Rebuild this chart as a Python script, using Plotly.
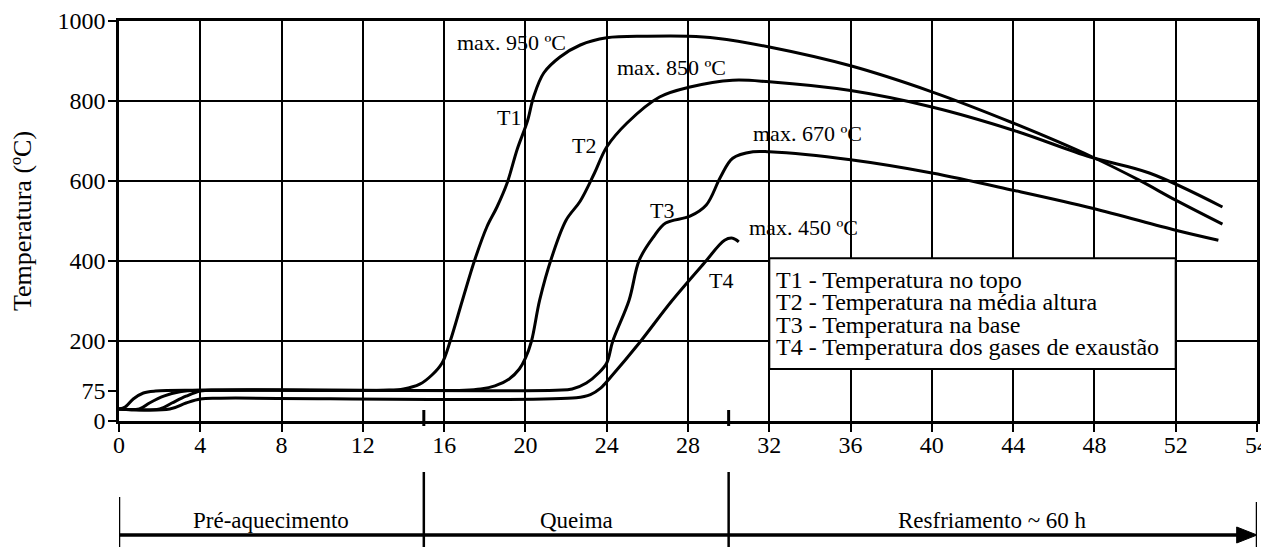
import plotly.graph_objects as go

# ---------------- data ----------------
t1_x = [0, 0.3, 0.7, 1.2, 1.8, 4, 13, 14, 14.8, 15.4, 15.9, 16.3, 16.9, 17.5, 18.1, 18.6, 19.1,
        19.6, 20.1, 20.4, 20.9, 21.7, 22.7, 24, 26, 28, 29.4, 32, 36, 40, 44, 47.9, 50.2, 52, 54.3]
t1_y = [30, 35, 55, 70, 75, 77, 77, 80, 92, 115, 145, 200, 302, 402, 485, 535, 595,
        680, 750, 810, 870, 910, 940, 958, 962, 962, 957, 935, 888, 823, 745, 660, 602, 552, 492]

t2_x = [0, 1.0, 1.5, 2.2, 3.0, 4, 17, 17.8, 18.5, 19.2, 19.7, 20.0, 20.3, 20.7, 21.3, 22.0, 22.7,
        23.4, 24.0, 25.0, 26.6, 28.1, 30.2, 32, 36, 40, 44, 47.8, 50.7, 54.3]
t2_y = [30, 30, 45, 62, 73, 77, 77, 80, 88, 105, 130, 157, 200, 302, 410, 502, 550,
        620, 685, 745, 810, 835, 852, 848, 826, 785, 727, 660, 620, 535]

t3_x = [0, 2.0, 2.6, 3.3, 4.0, 5, 21.5, 22.3, 23.0, 23.6, 24.0, 24.3, 25.1, 25.6, 26.3, 26.9, 28.1,
        28.9, 29.6, 30.2, 31.2, 32, 36, 40, 44, 47.9, 52, 54.1]
t3_y = [30, 30, 45, 62, 75, 77, 77, 80, 95, 120, 145, 200, 302, 402, 460, 495, 512,
        540, 610, 657, 673, 673, 653, 620, 577, 532, 477, 452]

t4_x = [0, 2.5, 3.3, 4, 5, 22.5, 23.2, 23.7, 24.2, 25.6, 27.2, 28.8, 29.8, 30.2, 30.5]
t4_y = [30, 30, 45, 55, 57, 58, 66, 82, 110, 195, 300, 395, 452, 457, 448]

x_tick_vals = [0, 4, 8, 12, 16, 20, 24, 28, 32, 36, 40, 44, 48, 52, 56]
x_tick_text = ["0", "4", "8", "12", "16", "20", "24", "28", "32", "36", "40", "44", "48", "52", "54"]
y_tick_vals = [0, 75, 200, 400, 600, 800, 1000]
y_grid_vals = [200, 400, 600, 800]

max_labels = ["max. 950 ºC", "max. 850 ºC", "max. 670 ºC", "max. 450 ºC"]
max_label_x = [19.3, 27.2, 33.9, 33.7]
max_label_y = [947, 885, 720, 485]

curve_labels = ["T1", "T2", "T3", "T4"]
curve_label_x = [19.2, 22.9, 26.7, 29.6]
curve_label_y = [760, 690, 527, 352]

legend_lines = ["T1 - Temperatura no topo",
                "T2 - Temperatura na média altura",
                "T3 - Temperatura na base",
                "T4 - Temperatura dos gases de exaustão"]
legend_line_y = [352, 297, 240, 185]
legend_box = dict(x0=32, x1=52, y0=130, y1=407)

phase_bounds = [0, 15, 30, 56]
phase_labels = ["Pré-aquecimento", "Queima", "Resfriamento ~ 60 h"]

FONT = "Liberation Serif"
FS = 22
TICK_FS = 24

fig = go.Figure()
for xs, ys, name in [(t1_x, t1_y, "T1"), (t2_x, t2_y, "T2"), (t3_x, t3_y, "T3"), (t4_x, t4_y, "T4")]:
    fig.add_trace(go.Scatter(x=xs, y=ys, mode="lines", name=name,
                             line=dict(color="black", width=3, shape="spline", smoothing=1.0),
                             showlegend=False, hoverinfo="x+y"))

annotations = []
for txt, x, y in zip(max_labels, max_label_x, max_label_y):
    annotations.append(dict(x=x, y=y, text=txt, showarrow=False, xref="x", yref="y",
                            font=dict(family=FONT, size=FS, color="black")))
for txt, x, y in zip(curve_labels, curve_label_x, curve_label_y):
    annotations.append(dict(x=x, y=y, text=txt, showarrow=False, xref="x", yref="y",
                            font=dict(family=FONT, size=FS, color="black")))
for txt, y in zip(legend_lines, legend_line_y):
    annotations.append(dict(x=legend_box["x0"] + 0.25, y=y, text=txt, showarrow=False,
                            xref="x", yref="y", xanchor="left", yanchor="middle",
                            font=dict(family=FONT, size=24, color="black")))

# timeline (paper coords below plot)
line_y = -0.285
text_y = -0.2475
for i, lab in enumerate(phase_labels):
    annotations.append(dict(x=(phase_bounds[i] + phase_bounds[i + 1]) / 2, y=text_y, text=lab,
                            xref="x", yref="paper", showarrow=False, yanchor="middle",
                            font=dict(family=FONT, size=23, color="black")))

shapes = []
shapes.append(dict(type="rect", xref="x", yref="y", layer="above",
                   fillcolor="white", line=dict(color="black", width=2), **legend_box))
# extra axis ticks at phase boundaries
for b in phase_bounds[1:3]:
    shapes.append(dict(type="line", xref="x", yref="paper", x0=b, x1=b, y0=-0.0125, y1=0.0275,
                       line=dict(color="black", width=3)))
# timeline line
shapes.append(dict(type="line", xref="x", yref="paper", x0=phase_bounds[0], x1=phase_bounds[-1] - 0.5,
                   y0=line_y, y1=line_y, line=dict(color="black", width=3.5)))
bar_tops = [-0.19, -0.1275, -0.1275, -0.2025]
for b, top in zip(phase_bounds, bar_tops):
    shapes.append(dict(type="line", xref="x", yref="paper", x0=b, x1=b, y0=top, y1=-0.32,
                       line=dict(color="black", width=2.5)))
# arrowhead
tip = phase_bounds[-1]
shapes.append(dict(type="path", xref="x", yref="paper",
                   path=f"M {tip - 1.0},{line_y + 0.02} L {tip},{line_y} L {tip - 1.0},{line_y - 0.02} Z",
                   fillcolor="black", line=dict(color="black", width=1)))

fig.update_layout(
    width=1269, height=547,
    margin=dict(l=111, r=20, t=13, b=134, autoexpand=False),
    paper_bgcolor="white", plot_bgcolor="white",
    font=dict(family=FONT, size=FS, color="black"),
    annotations=annotations, shapes=shapes,
    showlegend=False,
)
fig.update_xaxes(range=[0, 56], tickmode="array", tickvals=x_tick_vals, ticktext=x_tick_text,
                 automargin=False,
                 showgrid=True, gridcolor="black", gridwidth=1.5,
                 showline=True, linecolor="black", linewidth=2.5, mirror=True,
                 ticks="outside", ticklen=8, tickwidth=2, tickcolor="black",
                 ticklabelstandoff=-8,
                 tickfont=dict(family=FONT, size=TICK_FS, color="black"), zeroline=False)
fig.update_yaxes(range=[0, 1000], tickmode="array", tickvals=y_tick_vals,
                 automargin=False,
                 showgrid=False,
                 minor=dict(tickmode="array", tickvals=y_grid_vals, showgrid=True,
                            gridcolor="black", gridwidth=1.5, ticklen=0),
                 showline=True, linecolor="black", linewidth=2.5, mirror=True,
                 ticks="outside", ticklen=8, tickwidth=2, tickcolor="black",
                 ticklabelstandoff=-2,
                 tickfont=dict(family=FONT, size=TICK_FS, color="black"), zeroline=False,
                 title=dict(text="Temperatura (ºC)", standoff=21,
                            font=dict(family=FONT, size=26, color="black")))

fig.write_html("out.html")
